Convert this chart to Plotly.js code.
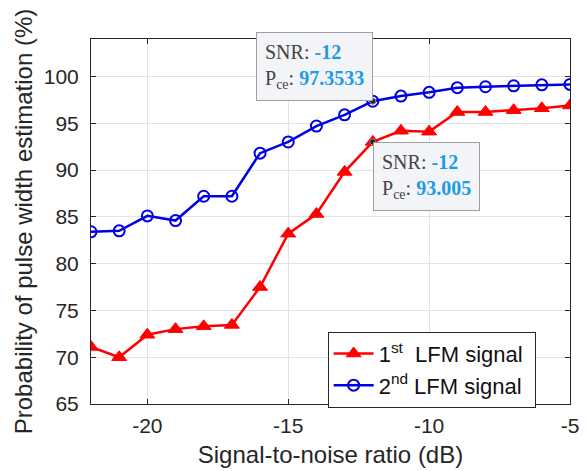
<!DOCTYPE html>
<html><head><meta charset="utf-8">
<script src="https://cdn.plot.ly/plotly-3.0.1.min.js"></script>
<style>body{margin:0;background:#fff}#c{width:587px;height:471px}</style>
</head><body><div id="c"></div>
<script>
const snr = [-22,-21,-20,-19,-18,-17,-16,-15,-14,-13,-12,-11,-10,-9,-8,-7,-6,-5];
const lfm1 = [71.1,70.0,72.4,73.0,73.3,73.45,77.5,83.2,85.3,89.8,93.005,94.2,94.1,96.2,96.2,96.4,96.6,96.9];
const lfm2 = [83.4,83.5,85.1,84.6,87.2,87.2,91.8,93.0,94.7,95.9,97.3533,97.9,98.3,98.8,98.9,99.0,99.1,99.15];
const seriesNames = ['1<sup>st</sup>&nbsp; LFM signal&nbsp;','2<sup>nd</sup>&nbsp;LFM signal&nbsp;'];
const xTickVals = [-20,-15,-10,-5];
const xTickText = ['-20','-15','-10','-5'];
const yTickVals = [65,70,75,80,85,90,95,100];
const tipIndex = 10;
const tipColor = '#1e9be6';
const serif = 'Liberation Serif, Times New Roman, serif';

function tipText(i, arr){
  return 'SNR: <b><span style="color:'+tipColor+'">'+snr[i]+'</span></b><br>P<sub>ce</sub>: <b><span style="color:'+tipColor+'">'+arr[i]+'</span></b>';
}

const traces = [
  {x: snr, y: lfm1, name: seriesNames[0], mode:'lines+markers',
   line:{color:'#ff0000', width:2.5},
   marker:{symbol:'triangle-up', size:13, color:'#ff0000', line:{color:'#ff0000', width:1}}},
  {x: snr, y: lfm2, name: seriesNames[1], mode:'lines+markers',
   line:{color:'#0000e6', width:2.5},
   marker:{symbol:'circle-open', size:11, color:'#0000e6', line:{width:2}}},
  {x: [snr[tipIndex], snr[tipIndex]], y: [lfm2[tipIndex], lfm1[tipIndex]], mode:'markers', showlegend:false,
   marker:{symbol:'circle', size:6, color:'#222', line:{color:'#888', width:1}}}
];

const axisCommon = {ticks:'inside', ticklen:5, tickcolor:'#262626',
    showgrid:true, gridcolor:'#e3e3e3', gridwidth:1, zeroline:false,
    showline:true, linecolor:'#262626', linewidth:1, mirror:'ticks',
    tickfont:{size:21, color:'#262626'}};

const layout = {
  width:587, height:471,
  margin:{l:91, r:17, t:39, b:67},
  paper_bgcolor:'#fff', plot_bgcolor:'#fff',
  font:{family:'Liberation Sans, Arial, sans-serif', color:'#262626'},
  xaxis:Object.assign({}, axisCommon, {range:[-22,-5], tickmode:'array', tickvals:xTickVals, ticktext:xTickText,
    ticklabelstandoff:3,
    title:{text:'Signal-to-noise ratio (dB)', font:{size:24, color:'#262626'}, standoff:9}}),
  yaxis:Object.assign({}, axisCommon, {range:[65,104], tickmode:'array', tickvals:yTickVals,
    ticklabelstandoff:7,
    title:{text:'Probability of pulse width estimation (%)', font:{size:24, color:'#262626'}, standoff:4}}),
  legend:{x:0.494, y:0.198, xanchor:'left', yanchor:'top', bgcolor:'#fff', bordercolor:'#262626', borderwidth:1,
    font:{size:22, color:'#111'}, tracegroupgap:0, itemwidth:40},
  annotations:[
    {x: snr[tipIndex], y: lfm2[tipIndex], xref:'x', yref:'y', text: tipText(tipIndex, lfm2),
     showarrow:false, xanchor:'right', yanchor:'bottom', align:'left',
     bgcolor:'#f3f4f7', bordercolor:'#a0a0a0', borderwidth:1, borderpad:8,
     font:{family:serif, size:20, color:'#444'}},
    {x: snr[tipIndex], y: lfm1[tipIndex], xref:'x', yref:'y', text: tipText(tipIndex, lfm1),
     showarrow:false, xanchor:'left', yanchor:'top', align:'left',
     bgcolor:'#f3f4f7', bordercolor:'#a0a0a0', borderwidth:1, borderpad:8,
     font:{family:serif, size:20, color:'#444'}}
  ]
};
Plotly.newPlot('c', traces, layout, {displayModeBar:false, staticPlot:true});
</script></body></html>
